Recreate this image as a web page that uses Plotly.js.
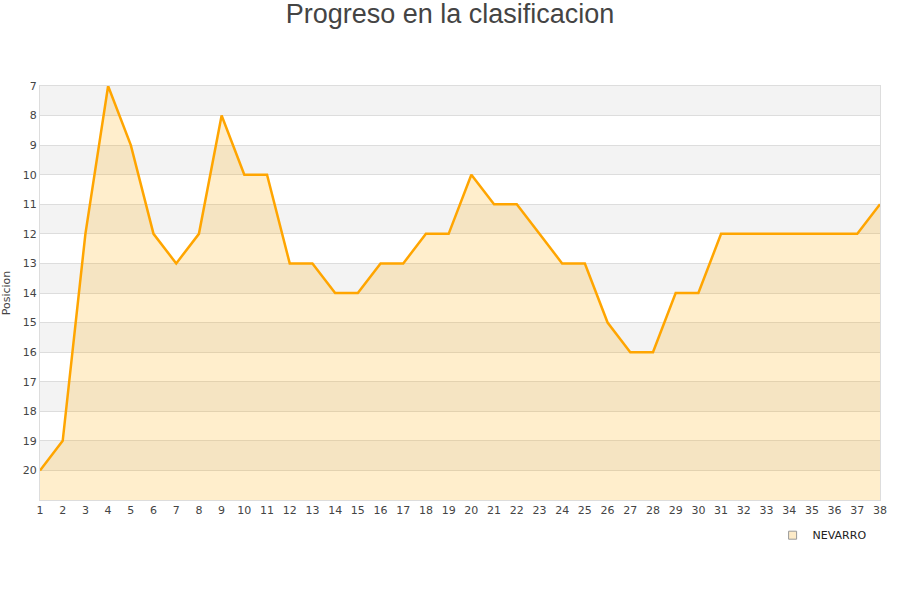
<!DOCTYPE html>
<html>
<head>
<meta charset="utf-8">
<script src="https://cdn.plot.ly/plotly-3.0.1.min.js"></script>
<style>
	html, body { margin: 0; padding: 0; background: #fff; }
	#plot { width: 900px; height: 600px; }
</style>
</head>
<body>
<div id="plot"></div>
<script>
	// Chart data
	const jornadas = [1, 2, 3, 4, 5, 6, 7, 8, 9, 10, 11, 12, 13, 14, 15, 16, 17, 18, 19,
		20, 21, 22, 23, 24, 25, 26, 27, 28, 29, 30, 31, 32, 33, 34, 35, 36, 37, 38];
	const posiciones = [20, 19, 12, 7, 9, 12, 13, 12, 8, 10, 10, 13, 13, 14, 14, 13, 13, 12, 12,
		10, 11, 11, 12, 13, 13, 15, 16, 16, 14, 14, 12, 12, 12, 12, 12, 12, 12, 11];
	const teamName = 'NEVARRO';
	const yTicks = [7, 8, 9, 10, 11, 12, 13, 14, 15, 16, 17, 18, 19, 20];
	const yBottom = 21;

	// Alternating horizontal bands behind the area.
	const bands = [];
	for (let v = 7; v < yBottom; v += 2) {
		bands.push({
			type: 'rect', xref: 'paper', yref: 'y', layer: 'below',
			x0: 0, x1: 1, y0: v, y1: v + 1,
			fillcolor: '#f3f3f3', line: { width: 0 }
		});
	}

	const traces = [
		{
			// invisible baseline so the area fills down to the bottom of the plot
			x: jornadas,
			y: jornadas.map(() => yBottom),
			mode: 'lines',
			line: { width: 0, color: 'rgba(0,0,0,0)' },
			hoverinfo: 'skip',
			showlegend: false
		},
		{
			x: jornadas,
			y: posiciones,
			mode: 'lines',
			fill: 'tonexty',
			fillcolor: 'rgba(255,170,0,0.2)',
			line: { color: '#ffa500', width: 2.5 },
			name: teamName,
			showlegend: false
		},
		{
			// legend entry only
			x: [null],
			y: [null],
			mode: 'markers',
			marker: { symbol: 'square', size: 8, color: '#fdebc8', line: { color: '#999', width: 1 } },
			name: teamName
		}
	];

	const layout = {
		width: 900,
		height: 600,
		paper_bgcolor: '#fff',
		plot_bgcolor: '#fff',
		title: {
			text: 'Progreso en la clasificacion',
			font: { family: 'Liberation Sans, Arial, sans-serif', size: 27, color: '#444' },
			x: 0.5, xanchor: 'center', y: 0.993, yanchor: 'top'
		},
		font: { family: 'DejaVu Sans, sans-serif', size: 11, color: '#444' },
		margin: { l: 40, r: 20, t: 86, b: 100 },
		xaxis: {
			range: [1, 38],
			tickvals: jornadas,
			ticks: '',
			showgrid: false,
			zeroline: false,
			showline: true,
			linecolor: '#ddd',
			mirror: true,
			tickfont: { size: 11, color: '#444' }
		},
		yaxis: {
			range: [yBottom, 7],
			tickvals: yTicks,
			ticks: '',
			showgrid: true,
			gridcolor: '#dddddd',
			zeroline: false,
			showline: true,
			linecolor: '#ddd',
			mirror: true,
			title: { text: 'Posicion', font: { size: 11, color: '#444' }, standoff: 10 },
			tickfont: { size: 11, color: '#444' }
		},
		shapes: bands,
		showlegend: true,
		legend: {
			orientation: 'h',
			x: 0.99, xanchor: 'right',
			y: -0.05, yanchor: 'top',
			font: { size: 11, color: '#222' },
			bgcolor: 'rgba(0,0,0,0)'
		}
	};

	Plotly.newPlot('plot', traces, layout, { displayModeBar: false, staticPlot: true });
</script>
</body>
</html>
